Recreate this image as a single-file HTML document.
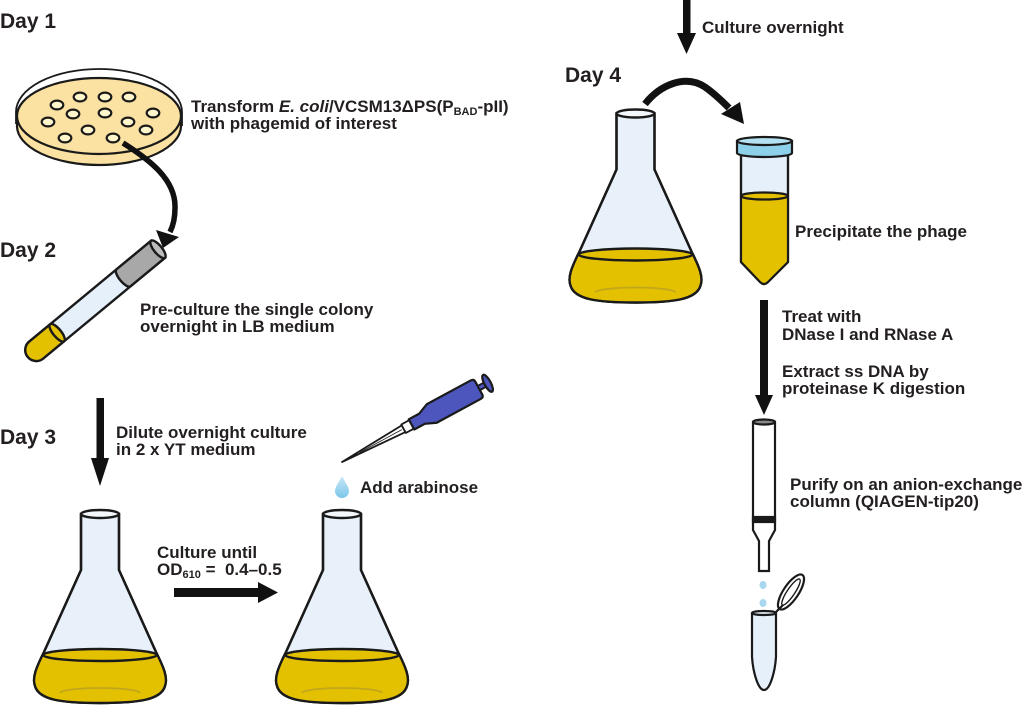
<!DOCTYPE html>
<html><head><meta charset="utf-8"><style>
html,body{margin:0;padding:0;background:#fff;}
svg{display:block;}
text{font-family:"Liberation Sans",Arial,sans-serif;font-weight:bold;fill:#231f20;}
.t{font-size:17px;}
.d{font-size:21px;}
</style></head><body>
<svg width="1024" height="706" viewBox="0 0 1024 706" xmlns="http://www.w3.org/2000/svg">
<rect width="1024" height="706" fill="#fff"/>

<!-- Petri dish -->
<path d="M17,116 V126 A82,39 0 0 0 181,126 V116 Z" fill="#fbe2a2" stroke="#1a1a1a" stroke-width="2.2"/>
<ellipse cx="99" cy="116" rx="82" ry="38" fill="#fbe2a2" stroke="#1a1a1a" stroke-width="2.2"/>
<path d="M16,112 A83,43 0 0 1 182,112" fill="none" stroke="#1a1a1a" stroke-width="1.8"/>
<path d="M16,112 V124 M182,112 V126" fill="none" stroke="#1a1a1a" stroke-width="1.8"/>
<g fill="#fff6cc" stroke="#1a1a1a" stroke-width="2.2">
<ellipse cx="80" cy="97" rx="6.3" ry="4.4"/>
<ellipse cx="105" cy="97" rx="6.3" ry="4.4"/>
<ellipse cx="129" cy="97" rx="6.3" ry="4.4"/>
<ellipse cx="57" cy="105" rx="6.3" ry="4.4"/>
<ellipse cx="73" cy="114" rx="6.3" ry="4.4"/>
<ellipse cx="105" cy="113" rx="6.3" ry="4.4"/>
<ellipse cx="153" cy="113" rx="6.3" ry="4.4"/>
<ellipse cx="48" cy="122" rx="6.3" ry="4.4"/>
<ellipse cx="128" cy="122" rx="6.3" ry="4.4"/>
<ellipse cx="88" cy="130" rx="6.3" ry="4.4"/>
<ellipse cx="146" cy="130" rx="6.3" ry="4.4"/>
<ellipse cx="65" cy="138" rx="6.3" ry="4.4"/>
<ellipse cx="113" cy="138" rx="6.3" ry="4.4"/>
</g>

<!-- Dish -> tube curved arrow -->
<path d="M123,143 C150,160 176,180 175,208 C175,219 173,226 170,232" fill="none" stroke="#111" stroke-width="5.5"/>
<polygon points="163,248 156,230 179,237" fill="#111"/>

<!-- Day 2 tube -->
<g transform="translate(158,249.3) rotate(140.4)" stroke="#1a1a1a" stroke-width="2.4">
<path d="M0,-11 H158 A11,11 0 0 1 158,11 H0 Z" fill="#e6f0fa"/>
<path d="M0,-11 H44.8 A4,11 0 0 1 44.8,11 H0 Z" fill="#a8a8a8"/>
<path d="M130.9,-11 H158 A11,11 0 0 1 158,11 H130.9 Z" fill="#e3c100"/>
<ellipse cx="130.9" cy="0" rx="4" ry="11" fill="#e3c100"/>
<ellipse cx="0" cy="0" rx="4" ry="11" fill="#bdbdbd"/>
</g>

<!-- Day 3 down arrow -->
<rect x="96.5" y="398" width="7.5" height="62" fill="#111"/>
<polygon points="91,458 109,458 100,486" fill="#111"/>

<!-- Horizontal arrow -->
<rect x="174" y="588" width="86" height="9" fill="#111"/>
<polygon points="258,582 258,603 278,592.5" fill="#111"/>

<!-- Flask 1 -->
<g stroke="#1a1a1a" stroke-width="2.4">
<path d="M81,514 V570 L44,652 C36,668 32,678 35,686 C39,700 62,703 100,703 C138,703 161,700 165,686 C168,678 164,668 156,652 L119,570 V514 Z" fill="#e8f1fa"/>
<path d="M42.6,655 C35.5,669 32.5,679 35,686 C39,700 62,703 100,703 C138,703 161,700 165,686 C167.5,679 164.5,669 157.4,655 Z" fill="#e3c100" stroke="none"/>
<ellipse cx="100" cy="655" rx="57" ry="6" fill="#e3c100"/>
<path d="M60,693 A40,5 0 0 1 140,693" fill="none" stroke="#b39a2a" stroke-width="1.8" opacity="0.7"/>
<path d="M81,514 V570 L44,652 C36,668 32,678 35,686 C39,700 62,703 100,703 C138,703 161,700 165,686 C168,678 164,668 156,652 L119,570 V514" fill="none"/>
<ellipse cx="100" cy="514" rx="19" ry="4" fill="#f4f8fc"/>
</g>

<!-- Flask 2 -->
<g transform="translate(242,0)" stroke="#1a1a1a" stroke-width="2.4">
<path d="M81,514 V570 L44,652 C36,668 32,678 35,686 C39,700 62,703 100,703 C138,703 161,700 165,686 C168,678 164,668 156,652 L119,570 V514 Z" fill="#e8f1fa"/>
<path d="M42.6,655 C35.5,669 32.5,679 35,686 C39,700 62,703 100,703 C138,703 161,700 165,686 C167.5,679 164.5,669 157.4,655 Z" fill="#e3c100" stroke="none"/>
<ellipse cx="100" cy="655" rx="57" ry="6" fill="#e3c100"/>
<path d="M60,693 A40,5 0 0 1 140,693" fill="none" stroke="#b39a2a" stroke-width="1.8" opacity="0.7"/>
<path d="M81,514 V570 L44,652 C36,668 32,678 35,686 C39,700 62,703 100,703 C138,703 161,700 165,686 C168,678 164,668 156,652 L119,570 V514" fill="none"/>
<ellipse cx="100" cy="514" rx="19" ry="4" fill="#f4f8fc"/>
</g>

<!-- Flask Day 4 -->
<g transform="translate(535.5,-400.5)" stroke="#1a1a1a" stroke-width="2.4">
<path d="M81,514 V570 L44,652 C36,668 32,678 35,686 C39,700 62,703 100,703 C138,703 161,700 165,686 C168,678 164,668 156,652 L119,570 V514 Z" fill="#e8f1fa"/>
<path d="M42.6,655 C35.5,669 32.5,679 35,686 C39,700 62,703 100,703 C138,703 161,700 165,686 C167.5,679 164.5,669 157.4,655 Z" fill="#e3c100" stroke="none"/>
<ellipse cx="100" cy="655" rx="57" ry="6" fill="#e3c100"/>
<path d="M60,693 A40,5 0 0 1 140,693" fill="none" stroke="#b39a2a" stroke-width="1.8" opacity="0.7"/>
<path d="M81,514 V570 L44,652 C36,668 32,678 35,686 C39,700 62,703 100,703 C138,703 161,700 165,686 C168,678 164,668 156,652 L119,570 V514" fill="none"/>
<ellipse cx="100" cy="514" rx="19" ry="4" fill="#f4f8fc"/>
</g>

<!-- Pipette -->
<g transform="translate(342,462) rotate(-28.4)" stroke="#1a1a1a" stroke-width="1.8" stroke-linejoin="round">
<path d="M0,0 L70,-3.8 L70,3.8 Z" fill="#fff"/>
<line x1="20" y1="0" x2="68" y2="0" stroke-width="0.8"/>
<rect x="70" y="-4.8" width="9" height="9.6" fill="#fff"/>
<path d="M79,-5.8 L91,-5.8 L102,-10.5 L152,-10.5 Q155.5,-10.5 155.5,-7 L155.5,7 Q155.5,10.5 152,10.5 L102,10.5 L91,5.8 L79,5.8 Z" fill="#4c56bd" stroke-width="2.2"/>
<rect x="155.5" y="-2.4" width="8" height="4.8" fill="#4c56bd"/>
<ellipse cx="165.5" cy="0" rx="3.2" ry="9.5" fill="#4c56bd" stroke-width="2.2"/>
</g>

<!-- Arabinose drop -->
<defs>
<linearGradient id="dg" x1="0" y1="0" x2="0" y2="1">
<stop offset="0" stop-color="#c8e9f7"/><stop offset="1" stop-color="#7cc6ea"/>
</linearGradient>
</defs>
<path d="M342,476 C338,484 335,487 335,491 A7,7 0 0 0 349,491 C349,487 346,484 342,476 Z" fill="url(#dg)"/>

<!-- Top right down arrow -->
<rect x="683" y="0" width="7.5" height="35" fill="#111"/>
<polygon points="677,33 696,33 686.5,54" fill="#111"/>

<!-- Day 4 curved arrow -->
<path d="M645,104 C660,85 685,74 705,87 C715,94 722,101 729,108" fill="none" stroke="#111" stroke-width="7"/>
<polygon points="721,114 740,102 744,124" fill="#111"/>

<!-- Conical tube -->
<g stroke="#1a1a1a" stroke-width="2.2">
<path d="M741,155 V262 L760,282 Q764,286 768,282 L788,262 V155 Z" fill="#e6f0fa"/>
<path d="M741,196 V262 L760,282 Q764,286 768,282 L788,262 V196 Z" fill="#e3c100" stroke="none"/>
<ellipse cx="764.5" cy="196" rx="23.5" ry="3.5" fill="#e3c100"/>
<path d="M741,155 V262 L760,282 Q764,286 768,282 L788,262 V155" fill="none"/>
<path d="M737,141 V153 A27.5,4 0 0 0 792,153 V141 Z" fill="#8dd0ea"/>
<ellipse cx="764.5" cy="141" rx="27.5" ry="4" fill="#b5e2f3"/>
</g>

<!-- Treat arrow -->
<rect x="760" y="300" width="8" height="97" fill="#111"/>
<polygon points="755,395 773,395 764,415" fill="#111"/>

<!-- Column -->
<g stroke="#1a1a1a" stroke-width="2.2">
<path d="M753,422 V530 L759,541 V571 H769 V541 L775,530 V422 Z" fill="#fff"/>
<rect x="753" y="517" width="22" height="5" fill="#1a1a1a"/>
<ellipse cx="764" cy="422" rx="11" ry="2.5" fill="#888"/>
</g>

<!-- Drops -->
<ellipse cx="763" cy="585" rx="3.5" ry="4" fill="#a8d8f0"/>
<ellipse cx="763" cy="603" rx="3.5" ry="4" fill="#a8d8f0"/>

<!-- Microcentrifuge tube -->
<g stroke="#1a1a1a" stroke-width="2.2">
<ellipse cx="791" cy="592" rx="7.5" ry="20.5" transform="rotate(34 791 592)" fill="#fff"/>
<ellipse cx="791" cy="592" rx="3.8" ry="15.5" transform="rotate(34 791 592)" fill="none" stroke-width="1.4"/>
<path d="M776,612 L783,605" fill="none"/>
<path d="M752,613 V657 C753,672 758,690 764,690 C770,690 775,672 776,657 V613" fill="#e6f0fa"/>
<ellipse cx="764" cy="613" rx="12" ry="2" fill="#e6f0fa"/>
</g>

<!-- Texts -->
<text class="d" x="0" y="28">Day 1</text>
<text class="d" x="0" y="257">Day 2</text>
<text class="d" x="0" y="444">Day 3</text>
<text class="d" x="565" y="82">Day 4</text>

<text class="t" x="191" y="112">Transform <tspan font-style="italic">E. coli</tspan>/VCSM13ΔPS(P<tspan font-size="11" dy="3">BAD</tspan><tspan dy="-3">-pII)</tspan></text>
<text class="t" x="191" y="129">with phagemid of interest</text>

<text class="t" x="140" y="315">Pre-culture the single colony</text>
<text class="t" x="140" y="332">overnight in LB medium</text>

<text class="t" x="116" y="438">Dilute overnight culture</text>
<text class="t" x="116" y="455">in 2 x YT medium</text>

<text class="t" x="360" y="493">Add arabinose</text>

<text class="t" x="157" y="558">Culture until</text>
<text class="t" x="157" y="575" xml:space="preserve">OD<tspan font-size="11" dy="3">610</tspan><tspan dy="-3"> =  0.4–0.5</tspan></text>

<text class="t" x="702" y="33">Culture overnight</text>
<text class="t" x="795" y="237">Precipitate the phage</text>
<text class="t" x="782" y="322">Treat with</text>
<text class="t" x="782" y="340">DNase I and RNase A</text>
<text class="t" x="782" y="377">Extract ss DNA by</text>
<text class="t" x="782" y="394">proteinase K digestion</text>
<text class="t" x="790" y="490">Purify on an anion-exchange</text>
<text class="t" x="790" y="507">column (QIAGEN-tip20)</text>
</svg>
</body></html>
